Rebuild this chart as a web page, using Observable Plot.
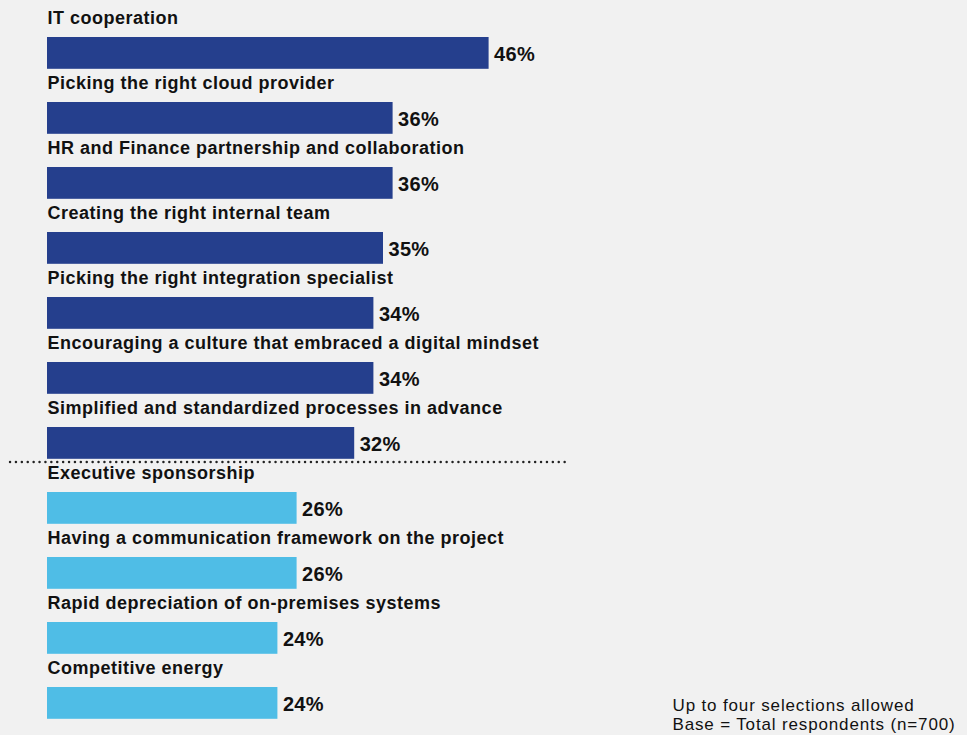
<!DOCTYPE html>
<html>
<head>
<meta charset="utf-8">
<script src="https://cdn.jsdelivr.net/npm/d3@7"></script>
<script src="https://cdn.jsdelivr.net/npm/@observablehq/plot@0.6"></script>
<style>
  html, body { margin: 0; padding: 0; background: #f1f1f1; }
  #chart { width: 967px; height: 735px; }
  svg { font-family: "Liberation Sans", Arial, Helvetica, sans-serif; }
</style>
</head>
<body>
<div id="chart"></div>
<script>
const categories = [
  "IT cooperation",
  "Picking the right cloud provider",
  "HR and Finance partnership and collaboration",
  "Creating the right internal team",
  "Picking the right integration specialist",
  "Encouraging a culture that embraced a digital mindset",
  "Simplified and standardized processes in advance",
  "Executive sponsorship",
  "Having a communication framework on the project",
  "Rapid depreciation of on-premises systems",
  "Competitive energy"
];
const values = [46, 36, 36, 35, 34, 34, 32, 26, 26, 24, 24];
const groups = ["top", "top", "top", "top", "top", "top", "top", "other", "other", "other", "other"];
const groupColors = { top: "#253f8d", other: "#4fbde6" };
const separatorBefore = "Executive sponsorship";
const footnote = ["Up to four selections allowed", "Base = Total respondents (n=700)"];

const data = categories.map((c, i) => ({ category: c, value: values[i], group: groups[i] }));

const chart = Plot.plot({
  width: 967,
  height: 735,
  marginTop: 4,
  marginBottom: 14,
  marginLeft: 47,
  marginRight: 8,
  style: { background: "#f1f1f1", fontFamily: "'Liberation Sans', Arial, Helvetica, sans-serif" },
  x: { domain: [0, 95], axis: null },
  y: { domain: categories, axis: null, padding: 0 },
  color: { domain: Object.keys(groupColors), range: Object.values(groupColors) },
  marks: [
    Plot.barX(data, { x: "value", y: "category", fill: "group", insetTop: 32, insetBottom: 1.2 }),
    Plot.text(data, { x: 0, y: "category", text: "category", textAnchor: "start", dy: -19.5, fontSize: 18, fontWeight: "bold", fill: "#111" }),
    Plot.text(data, { x: "value", y: "category", text: d => d.value + "%", textAnchor: "start", dx: 5, dy: 16.3, fontSize: 20, fontWeight: "bold", fill: "#111" }),
    Plot.ruleY([separatorBefore], { y: d => d, x1: -3.85, x2: 54.5, dy: -31, stroke: "#222", strokeWidth: 2.5, strokeDasharray: "0,5.9", strokeLinecap: "round" }),
    Plot.text([footnote.join("\n")], { frameAnchor: "bottom-left", text: d => d, textAnchor: "start", lineAnchor: "bottom", dx: 625, dy: 8, fontSize: 17, fill: "#111", lineHeight: 1.06 })
  ]
});
// letter spacing to match the wider original typeface
const textGroups = chart.querySelectorAll('g[aria-label="text"]');
const spacings = [0.5, 0.3, 0.85];
textGroups.forEach((g, i) => g.setAttribute("letter-spacing", spacings[i] ?? 0));
document.getElementById("chart").appendChild(chart);
</script>
</body>
</html>
